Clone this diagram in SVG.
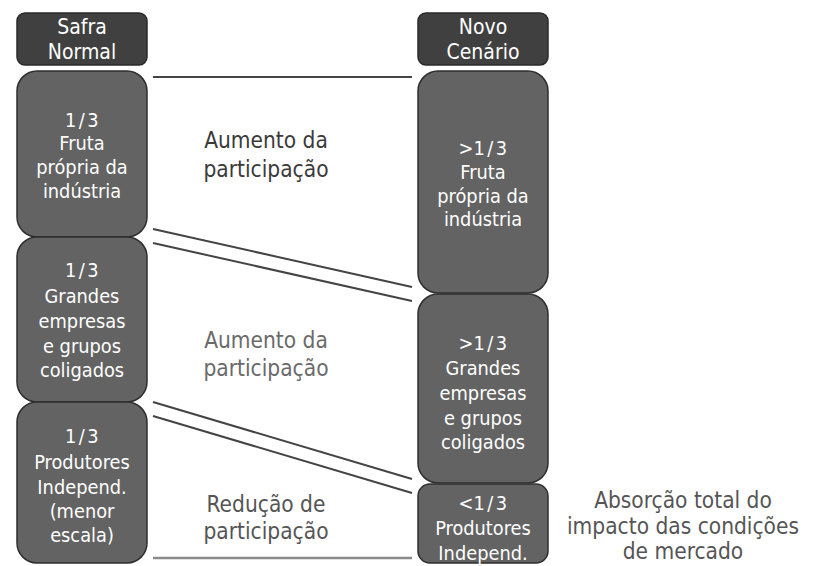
<svg xmlns="http://www.w3.org/2000/svg" width="818" height="566" viewBox="0 0 818 566">
<style>
.hdr{fill:#404040;stroke:#2a2a2a;stroke-width:1.5}
.box{fill:#636363;stroke:#2e2e2e;stroke-width:1.5}
text{font-family:"DejaVu Sans Condensed","DejaVu Sans",sans-serif;font-size:19.8px;text-anchor:middle}
.h{font-size:21px}
.lb{font-size:22.5px}
.fr{letter-spacing:2.5px}
.w{fill:#ffffff}
.d{fill:#3a3a3a}
.g{fill:#6a6a6a}
.m{fill:#555555}
.ln{stroke:#444;stroke-width:2;fill:none}
.lg{stroke:#8a8a8a;stroke-width:2.5;fill:none}
</style>
<rect width="818" height="566" fill="#ffffff"/>
<g id="hdr-left"><rect class="hdr" x="17" y="13" width="130" height="52" rx="8"/>
<text class="w h" x="82" y="34">Safra</text><text class="w h" x="82" y="59">Normal</text></g>
<g id="hdr-right"><rect class="hdr" x="418" y="13" width="130" height="52" rx="8"/>
<text class="w h" x="483" y="34">Novo</text><text class="w h" x="483" y="59">Cenário</text></g>
<g id="l1"><rect class="box" x="17" y="71" width="130" height="166" rx="20"/>
<text class="w fr" x="83" y="127">1/3</text><text class="w" x="82" y="150">Fruta</text><text class="w" x="82" y="174">própria da</text><text class="w" x="82" y="198">indústria</text></g>
<g id="l2"><rect class="box" x="17" y="237" width="130" height="165" rx="20"/>
<text class="w fr" x="83" y="277">1/3</text><text class="w" x="82" y="303">Grandes</text><text class="w" x="82" y="328">empresas</text><text class="w" x="82" y="353">e grupos</text><text class="w" x="82" y="377">coligados</text></g>
<g id="l3"><rect class="box" x="17" y="402" width="130" height="161" rx="20"/>
<text class="w fr" x="83" y="443">1/3</text><text class="w" x="82" y="469">Produtores</text><text class="w" x="82" y="494">Independ.</text><text class="w" x="82" y="518">(menor</text><text class="w" x="82" y="542">escala)</text></g>
<g id="r1"><rect class="box" x="418" y="71" width="130" height="222" rx="20"/>
<text class="w" x="484" y="155"><tspan>&gt;</tspan><tspan class="fr">1/3</tspan></text><text class="w" x="483" y="179">Fruta</text><text class="w" x="483" y="203">própria da</text><text class="w" x="483" y="226">indústria</text></g>
<g id="r2"><rect class="box" x="418" y="294" width="130" height="189" rx="20"/>
<text class="w" x="484" y="350"><tspan>&gt;</tspan><tspan class="fr">1/3</tspan></text><text class="w" x="483" y="375">Grandes</text><text class="w" x="483" y="400">empresas</text><text class="w" x="483" y="425">e grupos</text><text class="w" x="483" y="449">coligados</text></g>
<g id="r3"><rect class="box" x="418" y="484" width="130" height="79" rx="12"/>
<text class="w" x="484" y="510"><tspan>&lt;</tspan><tspan class="fr">1/3</tspan></text><text class="w" x="483" y="535">Produtores</text><text class="w" x="483" y="560">Independ.</text></g>
<g id="connectors">
<line class="ln" x1="153" y1="77" x2="412" y2="77"/>
<line class="ln" x1="153" y1="229" x2="412" y2="287"/>
<line class="ln" x1="153" y1="243" x2="412" y2="301"/>
<line class="ln" x1="153" y1="402" x2="412" y2="479"/>
<line class="ln" x1="153" y1="416" x2="412" y2="493"/>
<line class="lg" x1="153" y1="558" x2="412" y2="558"/>
</g>
<g id="labels">
<text class="d lb" x="266" y="148">Aumento da</text><text class="d lb" x="266" y="177">participação</text>
<text class="g lb" x="266" y="348">Aumento da</text><text class="g lb" x="266" y="376">participação</text>
<text class="m lb" x="266" y="512">Redução de</text><text class="m lb" x="266" y="539">participação</text>
<text class="m lb" x="683" y="508">Absorção total do</text><text class="m lb" x="683" y="534">impacto das condições</text><text class="m lb" x="683" y="559">de mercado</text>
</g>
</svg>
